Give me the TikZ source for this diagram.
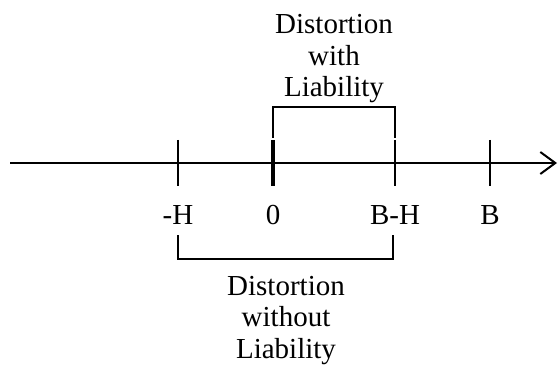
\documentclass[tikz,border=0pt]{standalone}
\usepackage{fontspec}
\setmainfont{Liberation Serif}
\usetikzlibrary{arrows.meta}
\begin{document}
\begin{tikzpicture}[x=1pt,y=-1pt,
  axisline/.style={line width=2pt},
  tick/.style={line width=2pt},
  zerotick/.style={line width=4pt},
  bracket/.style={line width=2pt},
  lbl/.style={font=\fontsize{29}{31}\selectfont, inner sep=0pt, anchor=base},
  caption/.style={font=\fontsize{29}{31.5}\selectfont, align=center, inner sep=0pt}]
\useasboundingbox (0,0) rectangle (559,366);
% axis
\coordinate (start) at (10,163);
\coordinate (end) at (557,163);
\draw[axisline,-{Straight Barb[length=15pt,width=22pt,line width=2pt]}] (start) -- (end);
% ticks
\coordinate (mHt) at (178,140); \coordinate (mHb) at (178,186);
\coordinate (zt) at (273,140); \coordinate (zb) at (273,186);
\coordinate (BHt) at (395,140); \coordinate (BHb) at (395,186);
\coordinate (Bt) at (490,140); \coordinate (Bb) at (490,186);
\draw[tick] (mHt) -- (mHb);
\draw[zerotick] (zt) -- (zb);
\draw[tick] (BHt) -- (BHb);
\draw[tick] (Bt) -- (Bb);
% labels
\node[lbl] (lmH) at (178,224) {-H};
\node[lbl] (l0) at (273,224) {0};
\node[lbl] (lBH) at (395,224) {B-H};
\node[lbl] (lB) at (490,224) {B};
% top bracket
\coordinate (t1) at (273,138); \coordinate (t2) at (273,107);
\coordinate (t3) at (395,107); \coordinate (t4) at (395,138);
\draw[bracket] (t1) -- (t2) -- (t3) -- (t4);
\node[caption, anchor=base] (topcap) at (334,97) {Distortion\\with\\Liability};
% bottom bracket
\coordinate (b1) at (178,235); \coordinate (b2) at (178,259);
\coordinate (b3) at (393,259); \coordinate (b4) at (393,235);
\draw[bracket] (b1) -- (b2) -- (b3) -- (b4);
\node[caption, anchor=base] (botcap) at (286,358) {Distortion\\without\\Liability};
\end{tikzpicture}
\end{document}
